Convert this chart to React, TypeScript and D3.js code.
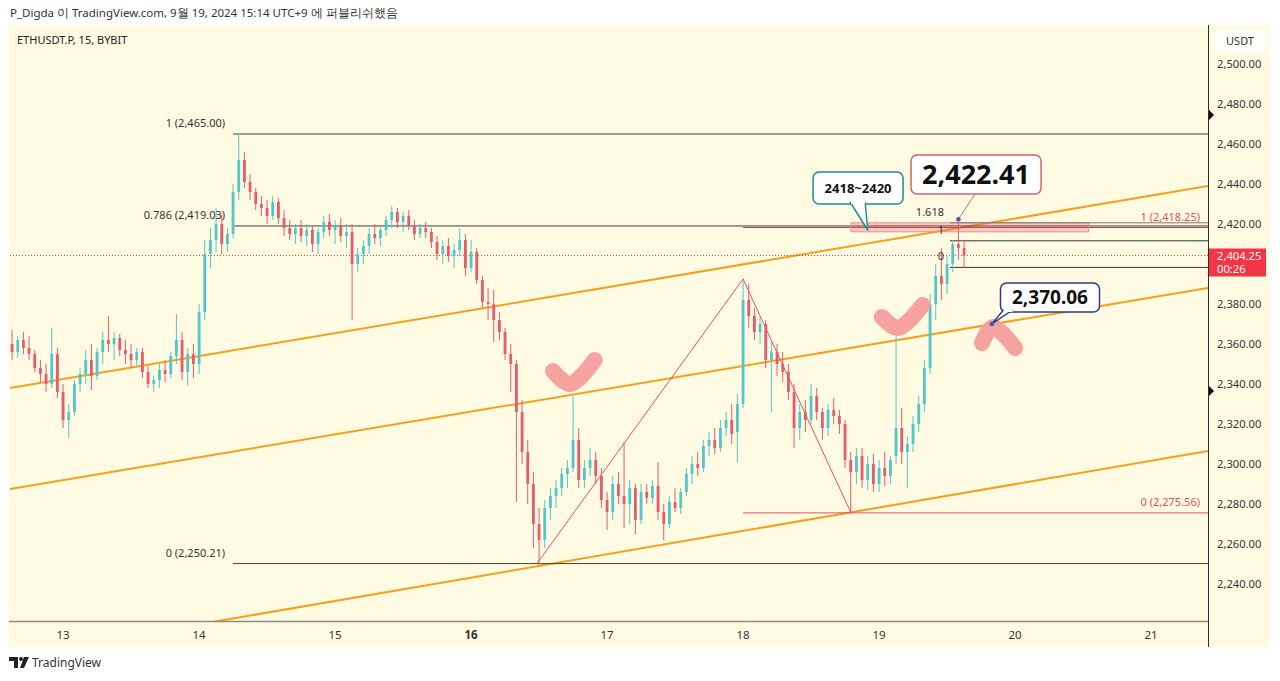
import React from "react";
import * as d3 from "d3";

// ---------- DATA ----------
// Hourly ETHUSDT.P candles (KST wall time stored as UTC), first candle 2024-09-12 15:00
const candleStartISO = "2024-09-12T15:00";
const candleOpen = [
  2360, 2356, 2362, 2358, 2355, 2348, 2345, 2340, 2355, 2336, 2322, 2326, 2340, 2345, 2352, 2344, 2356, 2362, 2360, 2363,
  2357, 2355, 2352, 2356, 2346, 2340, 2342, 2347, 2345, 2354, 2362, 2346, 2355, 2350, 2376, 2405, 2412, 2420, 2410, 2415,
  2436, 2452, 2441, 2436, 2430, 2428, 2424, 2431, 2423, 2418, 2415, 2418, 2414, 2417, 2410, 2416, 2421, 2417, 2419, 2414,
  2416, 2400, 2405, 2409, 2415, 2413, 2417, 2422, 2426, 2421, 2424, 2419, 2415, 2418, 2416, 2411, 2405, 2409, 2404, 2407,
  2412, 2398, 2406, 2392, 2381, 2380, 2372, 2366, 2355, 2350, 2326, 2306, 2290, 2270, 2262, 2278, 2284, 2288, 2295, 2298,
  2312, 2292, 2298, 2302, 2294, 2282, 2276, 2290, 2284, 2280, 2288, 2272, 2286, 2283, 2289, 2276, 2270, 2281, 2278, 2286,
  2295, 2300, 2298, 2309, 2312, 2308, 2318, 2322, 2316, 2330, 2382, 2374, 2366, 2370, 2352, 2356, 2350, 2346, 2336, 2318,
  2326, 2322, 2334, 2326, 2318, 2327, 2324, 2320, 2302, 2296, 2304, 2292, 2300, 2290, 2298, 2294, 2304, 2318, 2306, 2310,
  2320, 2330, 2348, 2380, 2394, 2390, 2400, 2410, 2408,
];
const candleHigh = [
  2367, 2364, 2366, 2364, 2357, 2352, 2350, 2368, 2358, 2340, 2330, 2342, 2348, 2357, 2360, 2358, 2366, 2374, 2366, 2365,
  2362, 2360, 2358, 2358, 2349, 2344, 2350, 2352, 2356, 2375, 2366, 2358, 2360, 2380, 2412, 2418, 2428, 2425, 2418, 2440,
  2465, 2456, 2445, 2438, 2434, 2432, 2434, 2433, 2427, 2422, 2420, 2422, 2420, 2419, 2418, 2424, 2425, 2422, 2423, 2420,
  2420, 2408, 2412, 2418, 2420, 2419, 2424, 2429, 2428, 2426, 2427, 2422, 2420, 2421, 2418, 2414, 2412, 2413, 2410, 2418,
  2415, 2412, 2408, 2394, 2388, 2387, 2376, 2368, 2360, 2352, 2332, 2312, 2296, 2278, 2282, 2288, 2292, 2298, 2302, 2334,
  2318, 2302, 2308, 2306, 2298, 2286, 2294, 2296, 2311, 2292, 2290, 2290, 2290, 2292, 2301, 2280, 2284, 2288, 2288, 2298,
  2304, 2306, 2312, 2316, 2318, 2322, 2326, 2330, 2335, 2393, 2390, 2378, 2374, 2372, 2362, 2360, 2356, 2350, 2340, 2330,
  2332, 2340, 2338, 2328, 2330, 2333, 2327, 2322, 2306, 2308, 2308, 2304, 2305, 2302, 2306, 2304, 2364, 2328, 2314, 2324,
  2334, 2352, 2385, 2400, 2408, 2404, 2412, 2422.41, 2412,
];
const candleLow = [
  2352, 2353, 2355, 2352, 2346, 2341, 2336, 2338, 2333, 2318, 2313, 2324, 2336, 2340, 2337, 2342, 2350, 2356, 2352, 2354,
  2350, 2348, 2349, 2343, 2338, 2336, 2338, 2341, 2343, 2350, 2342, 2339, 2343, 2345, 2372, 2398, 2406, 2405, 2406, 2413,
  2432, 2438, 2432, 2427, 2424, 2420, 2422, 2420, 2414, 2412, 2410, 2411, 2409, 2406, 2405, 2413, 2414, 2410, 2411, 2408,
  2372, 2396, 2400, 2405, 2410, 2409, 2414, 2418, 2418, 2416, 2417, 2412, 2413, 2413, 2408, 2402, 2400, 2401, 2398, 2404,
  2394, 2396, 2390, 2378, 2372, 2361, 2362, 2352, 2336, 2281, 2300, 2280, 2258, 2250.21, 2258, 2272, 2278, 2284, 2288, 2296,
  2288, 2288, 2294, 2290, 2278, 2267, 2272, 2280, 2268, 2270, 2265, 2270, 2280, 2280, 2272, 2262, 2268, 2276, 2275, 2284,
  2290, 2294, 2296, 2304, 2305, 2306, 2314, 2310, 2301, 2328, 2368, 2362, 2360, 2348, 2326, 2344, 2341, 2332, 2308, 2312,
  2316, 2320, 2322, 2312, 2314, 2320, 2315, 2298, 2275.56, 2290, 2288, 2287, 2286, 2286, 2289, 2290, 2300, 2300, 2288, 2306,
  2316, 2326, 2345, 2372, 2382, 2385, 2396, 2402, 2398,
];
const candleClose = [
  2356, 2362, 2358, 2355, 2348, 2345, 2340, 2355, 2336, 2322, 2326, 2340, 2345, 2352, 2344, 2356, 2362, 2360, 2363, 2357,
  2355, 2352, 2356, 2346, 2340, 2342, 2347, 2345, 2354, 2362, 2346, 2355, 2350, 2376, 2405, 2412, 2420, 2410, 2415, 2436,
  2452, 2441, 2436, 2430, 2428, 2424, 2431, 2423, 2418, 2415, 2418, 2414, 2417, 2410, 2416, 2421, 2417, 2419, 2414, 2416,
  2400, 2405, 2409, 2415, 2413, 2417, 2422, 2426, 2421, 2424, 2419, 2415, 2418, 2416, 2411, 2405, 2409, 2404, 2407, 2412,
  2398, 2406, 2392, 2381, 2380, 2372, 2366, 2355, 2350, 2326, 2306, 2290, 2270, 2262, 2278, 2284, 2288, 2295, 2298, 2312,
  2292, 2298, 2302, 2294, 2282, 2276, 2290, 2284, 2280, 2288, 2272, 2286, 2283, 2289, 2276, 2270, 2281, 2278, 2286, 2295,
  2300, 2298, 2309, 2312, 2308, 2318, 2322, 2315, 2330, 2382, 2374, 2366, 2370, 2352, 2356, 2350, 2346, 2336, 2318, 2326,
  2322, 2334, 2326, 2318, 2327, 2324, 2320, 2302, 2296, 2304, 2292, 2300, 2290, 2298, 2294, 2302, 2318, 2306, 2310, 2320,
  2330, 2348, 2380, 2394, 2390, 2400, 2410, 2408, 2404.25,
];

const lastPrice = 2404.25;
const lastPriceTimer = "00:26";
const priceTicks = [2240, 2260, 2280, 2300, 2320, 2340, 2360, 2380, 2400, 2420, 2440, 2460, 2480, 2500];
const dayTicks = ["2024-09-13", "2024-09-14", "2024-09-15", "2024-09-16", "2024-09-17", "2024-09-18", "2024-09-19", "2024-09-20", "2024-09-21"];
const boldDay = "2024-09-16";
const markerPrices = [2474.5, 2336.5];

// Fibonacci retracement (black)
const fibMainStart = "2024-09-14T06:00";
const fibMainRatios = ["1", "0.786", "0"];
const fibMainPrices = [2465.0, 2419.03, 2250.21];

// Trend-based fib (red)
const fibRedStart = "2024-09-18T00:00";
const fibRedRatios = ["1", "0"];
const fibRedPrices = [2418.25, 2275.56];
const zigzagTimes = ["2024-09-16T11:38", "2024-09-18T00:00", "2024-09-18T19:03"];
const zigzagPrices = [2250.21, 2392.5, 2275.56];

// Small fib (black)
const fibSmallStart = "2024-09-19T12:31";
const fibSmallRatios = ["1.618", "1", "0"];
const fibSmallPrices = [2420.6, 2411.6, 2398.3];

// Orange channel lines
const channelStartTimes = ["2024-09-12T14:38", "2024-09-12T14:38", "2024-09-13T23:18"];
const channelStartPrices = [2338, 2287.5, 2219.5];
const channelEndTimes = ["2024-09-21T10:03", "2024-09-21T10:03", "2024-09-21T10:03"];
const channelEndPrices = [2439, 2388, 2306.5];

// Pink zone
const zoneTimes = ["2024-09-18T19:03", "2024-09-20T13:00"];
const zonePrices = [2420.6, 2416.1];

// Callouts
const calloutTexts = ["2418~2420", "2,422.41", "2,370.06"];
const calloutCenterTimes = ["2024-09-18T20:18", "2024-09-19T17:07", "2024-09-20T06:10"];
const calloutCenterPrices = [2438, 2444.75, 2383.25];
const calloutAnchorTimes = ["2024-09-18T22:00", "2024-09-19T14:00", "2024-09-19T19:54"];
const calloutAnchorPrices = [2417, 2422.41, 2370.06];

// Pink hand-drawn marks
const markTimes = [
  ["2024-09-16T14:28", "2024-09-16T17:28", "2024-09-16T21:50"],
  ["2024-09-19T00:30", "2024-09-19T03:22", "2024-09-19T07:40"],
  ["2024-09-19T18:10", "2024-09-19T20:08", "2024-09-20T00:00"],
];
const markPrices = [
  [2346.5, 2340, 2352],
  [2373.5, 2368, 2379.5],
  [2360.5, 2368.5, 2358],
];

// ---------- HELPERS ----------
const T = (s: string) => new Date((s.length === 10 ? s + "T00:00" : s) + ":00Z");

const PLOT = { left: 10, right: 1208, top: 25, bottom: 621 };
const x = d3.scaleUtc().domain([T("2024-09-12T14:38"), T("2024-09-21T10:03")]).range([PLOT.left, PLOT.right]);
const y = d3.scaleLinear().domain([2500, 2240]).range([64, 584]);
const fmt = d3.format(",.2f");

const UP = "#52c7cb";
const DOWN = "#e65c6e";
const ORANGE = "#f5a01c";
const RED = "#e5505e";
const BG = "#fffbe3";
const FONT = "'Noto Sans', 'DejaVu Sans', sans-serif";

function Callout({ i, stroke, fontSize, w, h, kind, tipOffsets }: any) {
  const cx = x(T(calloutCenterTimes[i]));
  const cy = y(calloutCenterPrices[i]);
  const ax = x(T(calloutAnchorTimes[i]));
  const ay = y(calloutAnchorPrices[i]);
  const left = cx - w / 2;
  const top = cy - h / 2;
  const bottom = top + h;
  return (
    <g>
      {kind === "line" && (
        <line x1={cx - 1} y1={bottom} x2={ax} y2={ay} stroke={stroke} strokeWidth={1} />
      )}
      <rect x={left} y={top} width={w} height={h} rx={6} fill="#ffffff" stroke={stroke} strokeWidth={1.5} />
      {kind === "wedge" && (
        <path
          d={`M${left + tipOffsets[0]},${bottom - 2} L${ax},${ay} L${left + tipOffsets[1]},${bottom - 2}`}
          fill="#ffffff"
          stroke={stroke}
          strokeWidth={1.5}
          strokeLinejoin="round"
        />
      )}
      {kind === "wedge" && (
        <rect x={left + tipOffsets[0] + 1} y={bottom - 2.5} width={tipOffsets[1] - tipOffsets[0] - 1} height={2.5} fill="#ffffff" />
      )}
      {(kind === "line" || i === 2) && <circle cx={ax} cy={ay} r={2.3} fill="#4b56b8" />}
      <text
        x={cx}
        y={cy + fontSize * 0.36}
        textAnchor="middle"
        fontFamily={FONT}
        fontWeight={700}
        fontSize={fontSize}
        fill="#111"
      >
        {calloutTexts[i]}
      </text>
    </g>
  );
}

export default function App() {
  const start = T(candleStartISO).getTime();
  const step = (x(new Date(start + 3600e3)) as number) - (x(new Date(start)) as number);
  const bodyW = Math.max(1, step * 0.5);

  const candles = candleOpen.map((o, i) => {
    const c = candleClose[i];
    const h = candleHigh[i];
    const l = candleLow[i];
    const cx = x(new Date(start + i * 3600e3));
    const col = c >= o ? UP : DOWN;
    const yt = y(Math.max(o, c));
    const yb = y(Math.min(o, c));
    return (
      <g key={i}>
        <line x1={cx} x2={cx} y1={y(h)} y2={y(l)} stroke={col} strokeWidth={1} />
        <rect x={cx - bodyW / 2} y={yt} width={bodyW} height={Math.max(1, yb - yt)} fill={col} />
      </g>
    );
  });

  const markLine = d3
    .line<[number, number]>()
    .x((d) => d[0])
    .y((d) => d[1])
    .curve(d3.curveCatmullRom.alpha(0.5));

  const zz = zigzagTimes.map((t, i) => `${x(T(t))},${y(zigzagPrices[i])}`).join(" ");
  const lastY = y(lastPrice);
  const visibleTicks = priceTicks.filter((p) => Math.abs(y(p) - (lastY + 7)) > 20);

  return (
    <svg width={1280} height={681} style={{ position: "absolute", left: 0, top: 0, background: "#fff" }}>
      <defs>
        <clipPath id="plotClip">
          <rect x={PLOT.left} y={PLOT.top} width={PLOT.right - PLOT.left} height={PLOT.bottom - PLOT.top} />
        </clipPath>
      </defs>
      <rect x={0} y={0} width={1280} height={681} fill="#fff" />
      {/* header */}
      <text x={10} y={17} fontFamily={FONT} fontSize={11.5} fill="#333">
        P_Digda 이 TradingView.com, 9월 19, 2024 15:14 UTC+9 에 퍼블리쉬했음
      </text>
      {/* panel */}
      <rect x={9} y={25} width={1261} height={622} fill={BG} />

      <g clipPath="url(#plotClip)">
        {/* channel lines */}
        {channelStartTimes.map((t, i) => (
          <line
            key={"ch" + i}
            x1={x(T(t))}
            y1={y(channelStartPrices[i])}
            x2={x(T(channelEndTimes[i]))}
            y2={y(channelEndPrices[i])}
            stroke={ORANGE}
            strokeWidth={2}
          />
        ))}
        {/* main fib */}
        {fibMainPrices.map((p, i) => (
          <line key={"fm" + i} x1={x(T(fibMainStart))} x2={PLOT.right} y1={y(p)} y2={y(p)} stroke="#3f3f3c" strokeWidth={1} />
        ))}
        {/* red fib */}
        {fibRedPrices.map((p, i) => (
          <line key={"fr" + i} x1={x(T(fibRedStart))} x2={PLOT.right} y1={y(p)} y2={y(p)} stroke={i === 0 ? "#b5424c" : RED} strokeWidth={1} />
        ))}
        {/* pink zone */}
        <rect
          x={x(T(zoneTimes[0]))}
          y={y(zonePrices[0])}
          width={x(T(zoneTimes[1])) - x(T(zoneTimes[0]))}
          height={y(zonePrices[1]) - y(zonePrices[0])}
          fill="rgba(242,80,95,0.28)"
          stroke="#ef8a94"
          strokeWidth={1}
        />
        {/* small fib */}
        {fibSmallPrices.map((p, i) => (
          <line key={"fs" + i} x1={x(T(fibSmallStart))} x2={PLOT.right} y1={y(p)} y2={y(p)} stroke={i === 0 ? "#777" : "#333"} strokeWidth={1} />
        ))}
        {/* zigzag */}
        <polyline points={zz} fill="none" stroke={RED} strokeWidth={1} />
        {/* current price dotted line */}
        <line x1={PLOT.left} x2={PLOT.right} y1={lastY} y2={lastY} stroke="#f23645" strokeWidth={1} strokeDasharray="1,2" />
        {/* candles */}
        {candles}
        {/* pink marks */}
        {markTimes.map((ts, k) => (
          <path
            key={"mk" + k}
            d={markLine(ts.map((t, j) => [x(T(t)) as number, y(markPrices[k][j])]) as any) || ""}
            fill="none"
            stroke="#f59a9a"
            strokeOpacity={0.92}
            strokeWidth={16}
            strokeLinecap="round"
            strokeLinejoin="round"
          />
        ))}
      </g>

      {/* fib labels */}
      {fibMainPrices.map((p, i) => (
        <text key={"fml" + i} x={x(T(fibMainStart)) - 8} y={y(p) - 7} textAnchor="end" fontFamily={FONT} fontSize={11} fill="#333">
          {`${fibMainRatios[i]} (${fmt(p)})`}
        </text>
      ))}
      {fibRedPrices.map((p, i) => (
        <text key={"frl" + i} x={PLOT.right - 8} y={y(p) - 7} textAnchor="end" fontFamily={FONT} fontSize={11} fill={RED}>
          {`${fibRedRatios[i]} (${fmt(p)})`}
        </text>
      ))}
      {fibSmallPrices.map((p, i) => (
        <text key={"fsl" + i} x={x(T(fibSmallStart)) - 6} y={y(p) - 7} textAnchor="end" fontFamily={FONT} fontSize={11} fill="#333">
          {fibSmallRatios[i]}
        </text>
      ))}

      {/* callouts */}
      <Callout i={0} stroke="#1f8c9a" fontSize={13} w={90} h={32} kind="wedge" tipOffsets={[37, 52]} />
      <Callout i={1} stroke="#d9606e" fontSize={27} w={130} h={39} kind="line" />
      <Callout i={2} stroke="#2d3a8c" fontSize={19} w={99} h={29} kind="wedge" tipOffsets={[3, 12]} />

      {/* symbol */}
      <text x={17} y={44} fontFamily={FONT} fontSize={11} fill="#222">
        ETHUSDT.P, 15, BYBIT
      </text>

      {/* axes borders */}
      <line x1={PLOT.right + 0.5} x2={PLOT.right + 0.5} y1={25} y2={647} stroke="#2b2b2b" strokeWidth={1} />
      <line x1={9} x2={PLOT.right} y1={PLOT.bottom + 0.5} y2={PLOT.bottom + 0.5} stroke="#8d8c80" strokeWidth={1.5} />

      {/* price axis */}
      <rect x={1214} y={30} width={53} height={22} rx={4} fill="#fffef8" />
      <text x={1240} y={45} textAnchor="middle" fontFamily={FONT} fontSize={11} fill="#333">
        USDT
      </text>
      {visibleTicks.map((p) => (
        <text key={p} x={1217} y={y(p) + 4} fontFamily={FONT} fontSize={11.2} fill="#333">
          {fmt(p)}
        </text>
      ))}
      {markerPrices.map((p, i) => (
        <path key={"mp" + i} d={`M${PLOT.right + 1},${y(p) - 5} L${PLOT.right + 6},${y(p)} L${PLOT.right + 1},${y(p) + 5} Z`} fill="#111" />
      ))}
      <rect x={PLOT.right + 1} y={lastY - 7} width={57} height={28} fill="#f23645" />
      <text x={1217} y={lastY + 4} fontFamily={FONT} fontSize={11.2} fill="#fff">
        {fmt(lastPrice)}
      </text>
      <text x={1217} y={lastY + 17} fontFamily={FONT} fontSize={11.2} fill="#fff">
        {lastPriceTimer}
      </text>

      {/* time axis */}
      {dayTicks.map((d) => (
        <text
          key={d}
          x={x(T(d))}
          y={639}
          textAnchor="middle"
          fontFamily={FONT}
          fontSize={11.5}
          fontWeight={d === boldDay ? 700 : 400}
          fill="#333"
        >
          {d3.utcFormat("%-d")(T(d))}
        </text>
      ))}

      {/* footer logo */}
      <g fill="#222">
        <path d="M9,657 h9 v11 h-4 v-7 h-5 z" />
        <circle cx={21} cy={659} r={2} />
        <path d="M24,657 h5 l-5,11 h-4 z" />
      </g>
      <text x={32} y={667} fontFamily={FONT} fontSize={12} fill="#333">
        TradingView
      </text>
    </svg>
  );
}
